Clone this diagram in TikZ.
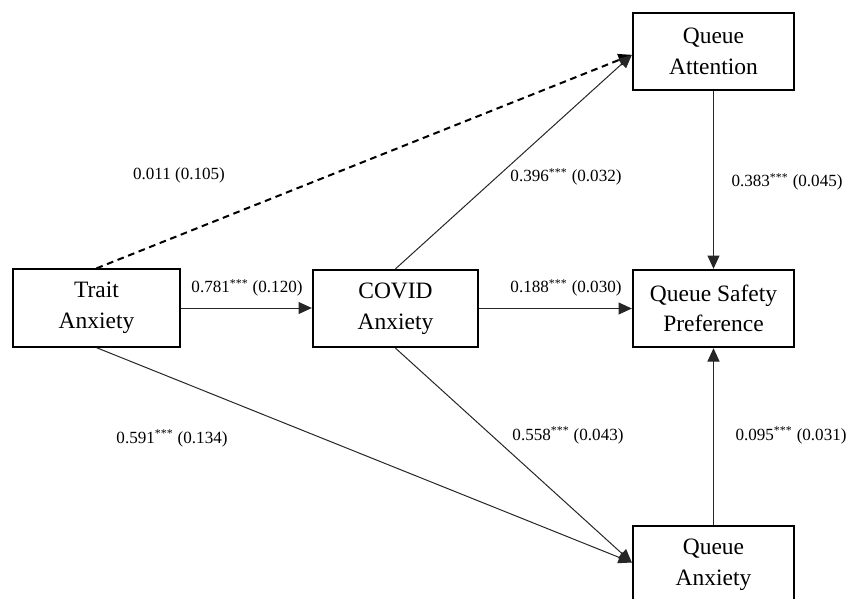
\documentclass[tikz,border=0pt]{standalone}
\usepackage{fontspec}
\setmainfont{Liberation Serif}
\usetikzlibrary{arrows.meta,positioning}
\tikzset{
  var/.style={draw=black, line width=1.5pt, fill=white, align=center, minimum width=121pt, minimum height=58pt, inner sep=2pt, font=\fontsize{17.6}{23}\selectfont},
  link/.style={-{Triangle[length=10pt,width=9pt]}, line width=0.75pt, black!85},
  nolink/.style={link, line width=1.5pt, black, dash pattern=on 5pt off 3.5pt},
  coef/.style={font=\fontsize{12.8}{15}\selectfont, inner sep=0pt}
}

\begin{document}
\begin{tikzpicture}[x=0.75pt,y=-0.75pt]
  \useasboundingbox (0,0) rectangle (849,599);
  % variables
  \node[var, minimum width=125pt] (trait) at (96.5,308) {Trait\\Anxiety};
  \node[var, minimum width=124pt] (covid) at (395.5,308.5) {COVID\\Anxiety};
  \node[var] (attn) at (713.5,51.5) {Queue\\Attention};
  \node[var] (pref) at (713.5,308.5) {Queue Safety\\Preference};
  \node[var] (qanx) at (713.5,564.5) {Queue\\Anxiety};
  % paths
  \draw[nolink] (trait.north) -- ([yshift=-2.5pt]attn.west);
  \draw[link] (covid.north) -- ([yshift=-2.5pt]attn.west);
  \draw[link] (trait.east) -- (trait.east -| covid.west);
  \draw[link] (covid.east) -- (covid.east -| pref.west);
  \draw[link] (attn) -- (pref);
  \draw[link] (qanx) -- (pref);
  \draw[link] (trait.south) -- ([yshift=1.5pt]qanx.west);
  \draw[link] (covid.south) -- ([yshift=1.5pt]qanx.west);
  % coefficients
  \node[coef] (c1) at (179,175) {0.011 (0.105)};
  \node[coef] (c2) at (566,177) {0.396\textsuperscript{***} (0.032)};
  \node[coef] (c3) at (247,288) {0.781\textsuperscript{***} (0.120)};
  \node[coef] (c4) at (566,288) {0.188\textsuperscript{***} (0.030)};
  \node[coef] (c5) at (787,182) {0.383\textsuperscript{***} (0.045)};
  \node[coef] (c6) at (172,438) {0.591\textsuperscript{***} (0.134)};
  \node[coef] (c7) at (568,435) {0.558\textsuperscript{***} (0.043)};
  \node[coef] (c8) at (791,435) {0.095\textsuperscript{***} (0.031)};
\end{tikzpicture}
\end{document}
